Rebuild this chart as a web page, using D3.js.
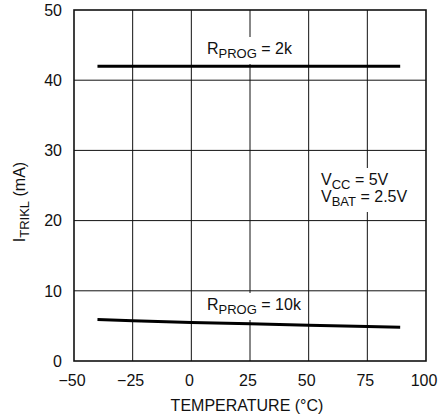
<!DOCTYPE html>
<html>
<head>
<meta charset="utf-8">
<script src="https://cdn.jsdelivr.net/npm/d3@7"></script>
<style>
  body { margin: 0; background: #fff; }
  svg text { font-family: "Liberation Sans Narrow", "Arial Narrow", "Liberation Sans", sans-serif; fill: #111; }
</style>
</head>
<body>
<div id="chart"></div>
<script>
// chart values
const xTicks = [-50, -25, 0, 25, 50, 75, 100];
const xTickLabels = ["\u221250", "\u221225", "0", "25", "50", "75", "100"];
const yTicks = [0, 10, 20, 30, 40, 50];
const temp2k = [-40, -25, 0, 25, 50, 75, 89];
const itrikl2k = [42, 42, 42, 42, 42, 42, 42];
const temp10k = [-40, -25, 0, 25, 50, 75, 89];
const itrikl10k = [5.9, 5.75, 5.5, 5.3, 5.1, 4.9, 4.8];

const width = 439, height = 418;
const plotL = 74, plotR = 426, plotT = 10, plotB = 361;

const x = d3.scaleLinear().domain([-50, 100]).range([plotL, plotR]);
const y = d3.scaleLinear().domain([0, 50]).range([plotB, plotT]);

const svg = d3.select("#chart").append("svg")
    .attr("width", width)
    .attr("height", height);

// grid
const grid = svg.append("g").attr("stroke", "#111").attr("stroke-width", 1);
grid.selectAll("line.v")
    .data(xTicks.slice(1, -1))
    .join("line")
    .attr("class", "v")
    .attr("x1", d => x(d)).attr("x2", d => x(d))
    .attr("y1", plotT).attr("y2", plotB);
grid.selectAll("line.h")
    .data(yTicks.slice(1, -1))
    .join("line")
    .attr("class", "h")
    .attr("x1", plotL).attr("x2", plotR)
    .attr("y1", d => y(d)).attr("y2", d => y(d));

// tick labels
svg.append("g")
    .style("font-size", "16px")
    .attr("text-anchor", "end")
    .selectAll("text")
    .data(yTicks)
    .join("text")
    .attr("x", plotL - 12)
    .attr("y", d => y(d))
    .attr("dy", "0.36em")
    .text(d => d);

svg.append("g")
    .style("font-size", "16px")
    .attr("text-anchor", "middle")
    .selectAll("text")
    .data(xTicks)
    .join("text")
    .attr("x", d => x(d) - 2)
    .attr("y", plotB + 25)
    .text((d, i) => xTickLabels[i]);

// axis titles
svg.append("text")
    .attr("x", x(25) - 3)
    .attr("y", 411)
    .attr("text-anchor", "middle")
    .style("font-size", "16px")
    .text("TEMPERATURE (\u00B0C)");

const yTitle = svg.append("text")
    .attr("transform", "translate(25,202) rotate(-90)")
    .attr("text-anchor", "middle")
    .style("font-size", "16px");
yTitle.append("tspan").text("I");
yTitle.append("tspan").attr("dy", 4).style("font-size", "13px").text("TRIKL");
yTitle.append("tspan").attr("dy", -4).text(" (mA)");

// labels with a white patch behind them (gridlines break there)
function label(px, py, parts) {
    const g = svg.append("g");
    const bg = g.append("rect").attr("fill", "#fff");
    const t = g.append("text").attr("x", px).attr("y", py).style("font-size", "16px");
    parts.forEach(p => {
        if (p.sub) t.append("tspan").attr("dy", 4).style("font-size", "13px").text(p.s);
        else t.append("tspan").attr("dy", p.after ? -4 : 0).text(p.s);
    });
    const b = t.node().getBBox();
    bg.attr("x", b.x - 5).attr("y", b.y - 3).attr("width", b.width + 10).attr("height", b.height + 6);
    return g;
}

label(207, 54, [{s: "R"}, {s: "PROG", sub: true}, {s: " = 2k", after: true}]);
label(207, 310, [{s: "R"}, {s: "PROG", sub: true}, {s: " = 10k", after: true}]);

const vg = svg.append("g");
const vbg = vg.append("rect").attr("fill", "#fff");
const vt = vg.append("text").style("font-size", "16px");
const l1 = vt.append("tspan").attr("x", 321).attr("y", 185);
l1.append("tspan").text("V");
l1.append("tspan").attr("dy", 4).style("font-size", "13px").text("CC");
l1.append("tspan").attr("dy", -4).text(" = 5V");
const l2 = vt.append("tspan").attr("x", 321).attr("y", 202);
l2.append("tspan").text("V");
l2.append("tspan").attr("dy", 4).style("font-size", "13px").text("BAT");
l2.append("tspan").attr("dy", -4).text(" = 2.5V");
const vb = vt.node().getBBox();
vbg.attr("x", vb.x - 4).attr("y", vb.y - 3).attr("width", vb.width + 8).attr("height", vb.height + 6);

// frame
svg.append("rect")
    .attr("x", plotL).attr("y", plotT)
    .attr("width", plotR - plotL).attr("height", plotB - plotT)
    .attr("fill", "none")
    .attr("stroke", "#111")
    .attr("stroke-width", 1.6);

// data lines
const line = d3.line().x(d => x(d[0])).y(d => y(d[1]));
svg.append("path")
    .datum(temp2k.map((t, i) => [t, itrikl2k[i]]))
    .attr("d", line)
    .attr("fill", "none").attr("stroke", "#000").attr("stroke-width", 3);
svg.append("path")
    .datum(temp10k.map((t, i) => [t, itrikl10k[i]]))
    .attr("d", line)
    .attr("fill", "none").attr("stroke", "#000").attr("stroke-width", 3);
</script>
</body>
</html>
